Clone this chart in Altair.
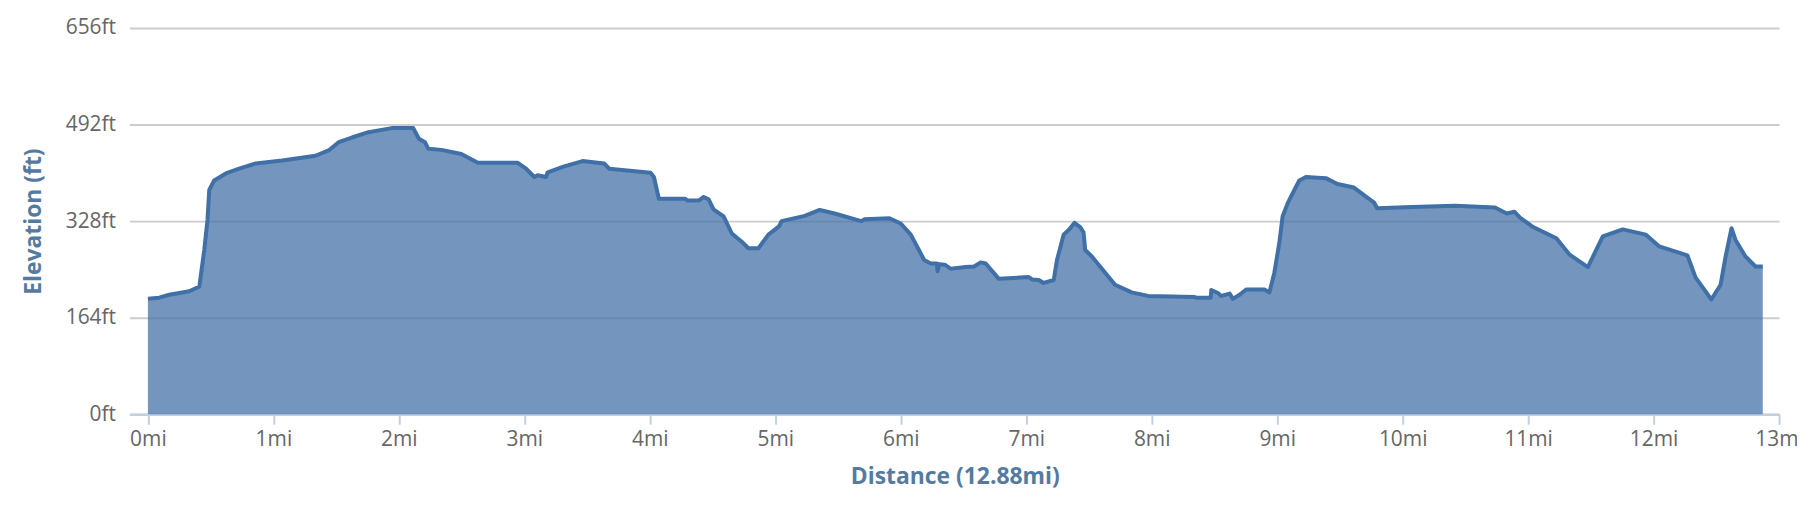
import altair as alt
import pandas as pd

distance_mi = [
    0.0, 0.09, 0.17, 0.33, 0.41, 0.449, 0.475, 0.489, 0.528, 0.621, 0.727, 0.859,
    1.07, 1.335, 1.44, 1.52, 1.626, 1.758, 1.943, 2.115, 2.16, 2.208, 2.234, 2.34,
    2.498, 2.63, 2.948, 3.014, 3.08, 3.107, 3.173, 3.186, 3.318, 3.464, 3.636, 3.676,
    4.006, 4.033, 4.072, 4.283, 4.30, 4.39, 4.429, 4.469, 4.508, 4.588, 4.654, 4.733,
    4.786, 4.866, 4.945, 5.03, 5.05, 5.235, 5.354, 5.473, 5.685, 5.711, 5.91, 6.0,
    6.08, 6.187, 6.24, 6.288, 6.293, 6.306, 6.35, 6.40, 6.518, 6.584, 6.637, 6.677,
    6.782, 7.02, 7.047, 7.1, 7.139, 7.219, 7.245, 7.298, 7.338, 7.385, 7.43, 7.457,
    7.47, 7.523, 7.603, 7.708, 7.84, 7.972, 8.343, 8.356, 8.47, 8.475, 8.528, 8.555,
    8.621, 8.647, 8.70, 8.753, 8.898, 8.938, 8.977, 9.017, 9.043, 9.083, 9.123, 9.176,
    9.229, 9.388, 9.48, 9.612, 9.705, 9.771, 9.797, 10.075, 10.419, 10.736, 10.83,
    10.89, 10.935, 11.04, 11.225, 11.331, 11.476, 11.595, 11.754, 11.939, 12.045,
    12.269, 12.335, 12.46, 12.534, 12.574, 12.621, 12.653, 12.732, 12.812, 12.87,
]
elevation_ft = [
    196, 198, 203, 209, 217, 279, 330, 381, 397, 409, 417, 426,
    431, 439, 448, 462, 470, 479, 486, 486, 468, 462, 451, 449,
    442, 427, 427, 417, 403, 406, 403, 411, 421, 430, 426, 417,
    410, 403, 366, 366, 363, 363, 369, 365, 348, 336, 307, 293,
    282, 282, 305, 319, 328, 337, 347, 341, 328, 331, 333, 324,
    305, 262, 256, 256, 243, 255, 254, 247, 250, 251, 258, 256,
    230, 233, 229, 228, 223, 228, 262, 305, 313, 325, 318, 309,
    279, 268, 247, 220, 207, 201, 199, 198, 198, 211, 206, 201,
    205, 196, 203, 212, 212, 207, 240, 291, 336, 358, 375, 397,
    403, 401, 391, 385, 370, 360, 350, 352, 354, 351, 341,
    344, 334, 318, 299, 271, 250, 302, 314, 305, 285,
    270, 232, 195, 220, 268, 316, 296, 268, 251, 251,
]

x_ticks = list(range(14))
y_ticks = [0, 164, 328, 492, 656]

df = pd.DataFrame({"dist": distance_mi, "elev": elevation_ft})

FONT = "Open Sans"
LABEL_COLOR = "#666666"
TITLE_COLOR = "#557aa0"

x_enc = alt.X(
    "dist:Q",
    scale=alt.Scale(domain=[-0.147, 13], nice=False, zero=False),
    axis=alt.Axis(
        values=x_ticks,
        labelExpr="datum.value + 'mi'",
        grid=False,
        domainColor="#C0D0E0",
        domainWidth=2.5,
        tickColor="#C0D0E0",
        tickWidth=2,
        tickSize=10,
        labelFont=FONT,
        labelFontSize=21,
        labelColor=LABEL_COLOR,
        labelPadding=4,
        labelOverlap=False,
        labelFlush=False,
        title="Distance (12.88mi)",
        titleFont=FONT,
        titleFontSize=23,
        titleFontWeight="bold",
        titleColor=TITLE_COLOR,
        titleX=829,
        titleY=63,
        titleAlign="center",
        titleBaseline="middle",
    ),
)
y_enc = alt.Y(
    "elev:Q",
    scale=alt.Scale(domain=[0, 656], nice=False, zero=True),
    axis=alt.Axis(
        values=y_ticks,
        labelExpr="datum.value + 'ft'",
        domain=False,
        ticks=False,
        grid=True,
        gridColor="#cccccc",
        gridWidth=2,
        labelFont=FONT,
        labelFontSize=21,
        labelColor=LABEL_COLOR,
        labelPadding=14,
        title="Elevation (ft)",
        titleFont=FONT,
        titleFontSize=23,
        titleFontWeight="bold",
        titleColor=TITLE_COLOR,
        titleAngle=270,
        titleX=-96,
        titleY=194,
        titleAlign="center",
        titleBaseline="middle",
    ),
)

area = alt.Chart(df).mark_area(color="#4572A7", fillOpacity=0.75, interpolate="linear").encode(
    x=x_enc, y=y_enc
)
line = alt.Chart(df).mark_line(color="#4070A8", strokeWidth=4, strokeJoin="round").encode(
    x="dist:Q", y="elev:Q"
)

chart = (
    alt.layer(area, line)
    .properties(
        width=1657,
        height=388,
        autosize=alt.AutoSizeParams(type="none"),
        padding={"left": 122, "top": 19, "right": 18, "bottom": 77},
    )
    .configure_view(strokeWidth=0)
)

chart.save("out.html", embed_options={"renderer": "svg", "actions": False})
